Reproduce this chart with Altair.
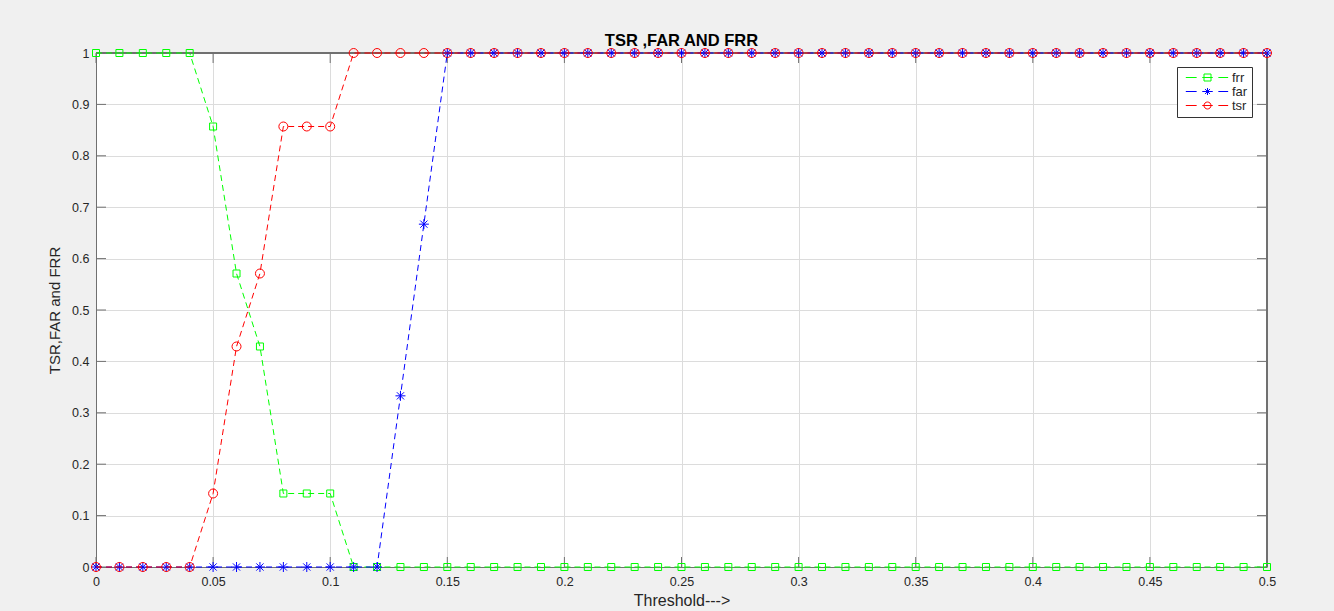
import altair as alt
import pandas as pd

# ---- data ----
thresholds = [0.00, 0.01, 0.02, 0.03, 0.04, 0.05, 0.06, 0.07, 0.08, 0.09,
              0.10, 0.11, 0.12, 0.13, 0.14, 0.15, 0.16, 0.17, 0.18, 0.19,
              0.20, 0.21, 0.22, 0.23, 0.24, 0.25, 0.26, 0.27, 0.28, 0.29,
              0.30, 0.31, 0.32, 0.33, 0.34, 0.35, 0.36, 0.37, 0.38, 0.39,
              0.40, 0.41, 0.42, 0.43, 0.44, 0.45, 0.46, 0.47, 0.48, 0.49,
              0.50]
frr = [1, 1, 1, 1, 1, 0.857, 0.571, 0.429, 0.143, 0.143,
       0.143, 0, 0, 0, 0, 0, 0, 0, 0, 0,
       0, 0, 0, 0, 0, 0, 0, 0, 0, 0,
       0, 0, 0, 0, 0, 0, 0, 0, 0, 0,
       0, 0, 0, 0, 0, 0, 0, 0, 0, 0,
       0]
far = [0, 0, 0, 0, 0, 0, 0, 0, 0, 0,
       0, 0, 0, 0.333, 0.667, 1, 1, 1, 1, 1,
       1, 1, 1, 1, 1, 1, 1, 1, 1, 1,
       1, 1, 1, 1, 1, 1, 1, 1, 1, 1,
       1, 1, 1, 1, 1, 1, 1, 1, 1, 1,
       1]
tsr = [0, 0, 0, 0, 0, 0.143, 0.429, 0.571, 0.857, 0.857,
       0.857, 1, 1, 1, 1, 1, 1, 1, 1, 1,
       1, 1, 1, 1, 1, 1, 1, 1, 1, 1,
       1, 1, 1, 1, 1, 1, 1, 1, 1, 1,
       1, 1, 1, 1, 1, 1, 1, 1, 1, 1,
       1]
series_names = ["frr", "far", "tsr"]
series_colors = ["#00ff00", "#0000ff", "#ff0000"]
x_ticks = [0, 0.05, 0.1, 0.15, 0.2, 0.25, 0.3, 0.35, 0.4, 0.45, 0.5]
y_ticks = [0, 0.1, 0.2, 0.3, 0.4, 0.5, 0.6, 0.7, 0.8, 0.9, 1]

rows = []
for name, vals in zip(series_names, [frr, far, tsr]):
    for t, v in zip(thresholds, vals):
        rows.append({"threshold": t, "value": v, "series": name})
df = pd.DataFrame(rows)
xt = pd.DataFrame({"tick": x_ticks})
yt = pd.DataFrame({"tick": y_ticks})

# ---- styling ----
W, H = 1171, 514
FONT = "Liberation Sans"
AX = "#707070"
TXT = "#262626"
TL = 10

SQUARE = "M-1,-1H1V1H-1Z"
CIRCLE = "M1,0A1,1,0,1,1,-1,0A1,1,0,1,1,1,0Z"
ASTER = "M0,-1V1M-1,0H1M-0.72,-0.72L0.72,0.72M-0.72,0.72L0.72,-0.72"
shapes = {"frr": SQUARE, "far": ASTER, "tsr": CIRCLE}
sizes = {"frr": 49, "far": 100, "tsr": 81}
DASH = "M-6.2,0H-3.1M-1.5,0H1.5M3.1,0H5.9"
legend_shapes = [DASH + SQUARE, DASH + ASTER, DASH + CIRCLE]

x_scale = alt.Scale(domain=[0, 0.5], nice=False, zero=False)
y_scale = alt.Scale(domain=[0, 1], nice=False, zero=False)
color_scale = alt.Scale(domain=series_names, range=series_colors)
shape_scale = alt.Scale(domain=series_names, range=legend_shapes)

x_axis = alt.Axis(values=x_ticks, format="~g", title="Threshold--->",
                  grid=True, gridColor="#dcdcdc", gridWidth=1,
                  domainColor=AX, domainWidth=1, ticks=False, tickSize=0,
                  labelFont=FONT, labelFontSize=12.5, labelColor=TXT, labelPadding=8,
                  labelFlush=False,
                  titleFont=FONT, titleFontSize=16, titleFontWeight="normal",
                  titleColor=TXT, titlePadding=5)
y_axis = alt.Axis(values=y_ticks, format="~g", title="TSR,FAR and FRR",
                  grid=True, gridColor="#dcdcdc", gridWidth=1,
                  domainColor=AX, domainWidth=1, ticks=False, tickSize=0,
                  labelFont=FONT, labelFontSize=12.5, labelColor=TXT, labelPadding=7,
                  labelFlush=False,
                  titleFont=FONT, titleFontSize=15, titleFontWeight="normal",
                  titleColor=TXT, titlePadding=9)

legend = alt.Legend(orient="none", legendX=1081, legendY=14, title=None,
                    symbolSize=49, symbolStrokeWidth=1, symbolOffset=20,
                    labelOffset=18, labelFont=FONT, labelFontSize=13, labelColor=TXT,
                    padding=4, rowPadding=0, strokeColor="#333333",
                    fillColor="white", symbolFillColor="transparent")

X = alt.X("threshold:Q", scale=x_scale, axis=x_axis)
Y = alt.Y("value:Q", scale=y_scale, axis=y_axis)

layers = []
# box lines (top / right)
layers.append(alt.Chart(xt).mark_rule(color=AX, strokeWidth=1).encode(
    y=alt.datum(1, scale=y_scale, axis=y_axis)))
layers.append(alt.Chart(xt).mark_rule(color=AX, strokeWidth=1).encode(
    x=alt.datum(0.5, scale=x_scale, axis=x_axis)))
# inward ticks
XT = alt.X("tick:Q", scale=x_scale, axis=x_axis)
YT = alt.Y("tick:Q", scale=y_scale, axis=y_axis)
layers.append(alt.Chart(xt).mark_rule(color=AX, strokeWidth=1).encode(
    x=XT, y=alt.value(H), y2=alt.value(H - TL)))
layers.append(alt.Chart(xt).mark_rule(color=AX, strokeWidth=1).encode(
    x=XT, y=alt.value(0), y2=alt.value(TL)))
layers.append(alt.Chart(yt).mark_rule(color=AX, strokeWidth=1).encode(
    y=YT, x=alt.value(0), x2=alt.value(TL)))
layers.append(alt.Chart(yt).mark_rule(color=AX, strokeWidth=1).encode(
    y=YT, x=alt.value(W - TL), x2=alt.value(W)))

for name, col in zip(series_names, series_colors):
    base = alt.Chart(df).transform_filter(alt.datum.series == name)
    layers.append(base.mark_line(color=col, strokeDash=[6, 4], strokeWidth=1).encode(x=X, y=Y))
    layers.append(base.mark_point(shape=shapes[name], size=sizes[name], filled=False,
                                  color=col, strokeWidth=1, opacity=1).encode(x=X, y=Y))

# legend-only layer (no rows drawn)
layers.append(alt.Chart(df).transform_filter("false").mark_point(
    filled=False, strokeWidth=1, opacity=1).encode(
    x=X, y=Y,
    color=alt.Color("series:N", scale=color_scale, legend=legend),
    shape=alt.Shape("series:N", scale=shape_scale, legend=legend)))

chart = alt.layer(*layers).properties(
    width=W, height=H,
    title=alt.Title("TSR ,FAR AND FRR", font=FONT, fontSize=16.5, fontWeight="bold",
                    color="black", offset=-3, anchor="middle"),
    autosize=alt.AutoSizeParams(type="none"),
    padding={"left": 96, "top": 53, "right": 67, "bottom": 44},
    background="#f0f0f0",
).configure_view(fill="white", stroke=None)

chart.save("out.html", embed_options={"renderer": "svg", "actions": False})
